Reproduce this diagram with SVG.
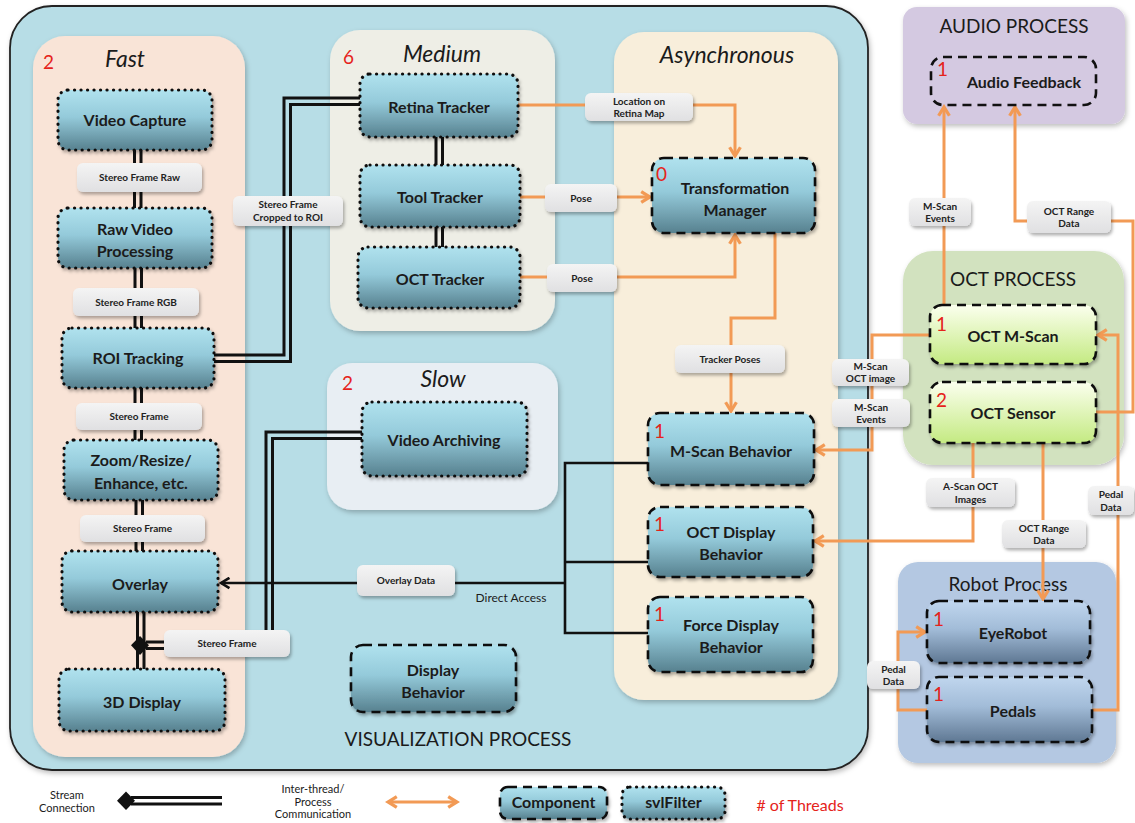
<svg xmlns="http://www.w3.org/2000/svg" width="1135" height="823" viewBox="0 0 1135 823">
  <defs>
    <linearGradient id="gBlue" x1="0" y1="0" x2="0" y2="1">
      <stop offset="0" stop-color="#b0e2ee"/>
      <stop offset="0.45" stop-color="#94cada"/>
      <stop offset="1" stop-color="#57818f"/>
    </linearGradient>
    <linearGradient id="gGreen" x1="0" y1="0" x2="0" y2="1">
      <stop offset="0" stop-color="#fbffee"/>
      <stop offset="1" stop-color="#c4ea82"/>
    </linearGradient>
    <linearGradient id="gRobot" x1="0" y1="0" x2="0" y2="1">
      <stop offset="0" stop-color="#c0d6ee"/>
      <stop offset="0.45" stop-color="#a2bcd8"/>
      <stop offset="1" stop-color="#5f7893"/>
    </linearGradient>
    <linearGradient id="gLbl" x1="0" y1="0" x2="0" y2="1">
      <stop offset="0" stop-color="#f4f4f4"/>
      <stop offset="1" stop-color="#e0e0e2"/>
    </linearGradient>
    <filter id="sh" x="-10%" y="-10%" width="130%" height="140%">
      <feDropShadow dx="1.5" dy="2.5" stdDeviation="1.8" flood-color="#000" flood-opacity="0.3"/>
    </filter>
    <filter id="shP" x="-5%" y="-5%" width="115%" height="115%">
      <feDropShadow dx="1.5" dy="2.5" stdDeviation="2.5" flood-color="#000" flood-opacity="0.25"/>
    </filter>
    <marker id="ao" viewBox="0 0 10 10" refX="8" refY="5" markerWidth="4.5" markerHeight="4.5" orient="auto-start-reverse">
      <path d="M1.5,1 L8,5 L1.5,9" fill="none" stroke="#f29a55" stroke-width="2.4"/>
    </marker>
    <marker id="ab" viewBox="0 0 10 10" refX="8" refY="5" markerWidth="5" markerHeight="5" orient="auto">
      <path d="M1.5,1 L8,5 L1.5,9" fill="none" stroke="#111" stroke-width="2"/>
    </marker>
    <style>
      text { font-family: Lato, "Open Sans", "Liberation Sans", sans-serif; }
      .panel { filter: url(#shP); }
      .node { fill: url(#gBlue); stroke: #111; stroke-width: 2.6; filter: url(#sh); }
      .green { fill: url(#gGreen); }
      .robot { fill: url(#gRobot); }
      .dot { stroke-dasharray: 0.1 6.4; stroke-linecap: round; stroke-width: 3.2; }
      .dash { stroke-dasharray: 9 6; }
      .nt { font-size: 16px; font-weight: 700; fill: #1b1b1b; text-anchor: middle; }
      .num { font-size: 19px; fill: #e5231b; }
      .ttl { font-size: 23px; font-style: italic; fill: #1b1b1b; text-anchor: middle; }
      .proc { font-size: 19px; fill: #1b1b1b; text-anchor: middle; }
      .lbl { fill: url(#gLbl); filter: url(#sh); }
      .lt { font-size: 10px; font-weight: 700; fill: #222; text-anchor: middle; }
      .or { fill: none; stroke: #f29a55; stroke-width: 3; stroke-linejoin: miter; }
      .bk { fill: none; stroke: #111; stroke-width: 2.6; }
      .st { fill: none; stroke: #111; stroke-width: 3; }
      .leg { font-size: 11px; fill: #1b1b1b; text-anchor: middle; }
    </style>
  </defs>

  <!-- process and thread-group panels -->
  <g id="visualization-process">
    <rect class="panel" x="10" y="6" width="858" height="764" rx="42" fill="#b7dde6" stroke="#222" stroke-width="1.8"/>
    <text class="proc" x="458" y="746" font-size="18">VISUALIZATION PROCESS</text>
  </g>
  <g id="fast-group">
    <rect class="panel" x="33" y="36" width="212" height="721" rx="32" fill="#f9e4d7"/>
    <text class="num" x="43" y="69">2</text>
    <text class="ttl" x="125" y="67">Fast</text>
  </g>
  <g id="medium-group">
    <rect class="panel" x="330" y="30" width="225" height="301" rx="30" fill="#eeeee6"/>
    <text class="num" x="343" y="64">6</text>
    <text class="ttl" x="442" y="62">Medium</text>
  </g>
  <g id="async-group">
    <rect class="panel" x="614" y="32" width="224" height="668" rx="30" fill="#f8eedb"/>
    <text class="ttl" x="727" y="63">Asynchronous</text>
  </g>
  <g id="slow-group">
    <rect class="panel" x="327" y="363" width="231" height="147" rx="25" fill="#e8eef3"/>
    <text class="num" x="342" y="390">2</text>
    <text class="ttl" x="443" y="387">Slow</text>
  </g>
  <g id="audio-process">
    <rect class="panel" x="903" y="7" width="222" height="117" rx="14" fill="#d4c9e1"/>
    <text class="proc" x="1014" y="33">AUDIO PROCESS</text>
  </g>
  <g id="oct-process">
    <rect class="panel" x="903" y="251" width="221" height="214" rx="30" fill="#d2e2bf"/>
    <text class="proc" x="1013" y="286">OCT PROCESS</text>
  </g>
  <g id="robot-process">
    <rect class="panel" x="898" y="562" width="218" height="201" rx="20" fill="#b4c8e2"/>
    <text class="proc" x="1008" y="591">Robot Process</text>
  </g>

  <!-- connectors -->
  <g id="connectors">
    <!-- stream connections (double lines) -->
    <path class="st" d="M134.5,150 V208 M141,150 V208"/>
    <path class="st" d="M135,268 V328 M141.5,268 V328"/>
    <path class="st" d="M135,388 V440 M141.5,388 V440"/>
    <path class="st" d="M136,500 V551 M142.5,500 V551"/>
    <path class="st" d="M137.5,612 V669 M144,612 V669"/>
    <path class="st" d="M436,137 V165 M442.5,137 V165"/>
    <path class="st" d="M436,227 V247 M442.5,227 V247"/>
    <path class="st" d="M214,355 H284 V98 H360"/>
    <path class="st" d="M214,361.5 H290.5 V104.5 H360"/>
    <path class="st" d="M362,432 H266 V630"/>
    <path class="st" d="M362,438.5 H272.5 V630"/>
    <path class="st" d="M164,642 H146 M164,648.5 H146"/>
    <path d="M140,636 L149,645.3 L140,655 L131,645.3 Z" fill="#111"/>

    <!-- inter-thread / process communication -->
    <path class="or" d="M518,105 H735 V156" marker-end="url(#ao)"/>
    <path class="or" d="M520,197 H650" marker-end="url(#ao)"/>
    <path class="or" d="M520,277 H735 V235" marker-end="url(#ao)"/>
    <path class="or" d="M775,233 V318 H731 V411" marker-end="url(#ao)"/>
    <path class="or" d="M930,335 H872 V450 H816" marker-end="url(#ao)"/>
    <path class="or" d="M944,305 V107" marker-end="url(#ao)"/>
    <path class="or" d="M1096,412 H1133 V221 H1015 V107" marker-end="url(#ao)"/>
    <path class="or" d="M1092,710 H1118 V335 H1098" marker-end="url(#ao)"/>
    <path class="or" d="M973,443 V541 H815" marker-end="url(#ao)"/>
    <path class="or" d="M1043,443 V599" marker-end="url(#ao)"/>
    <path class="or" d="M927,710 H898 V632 H925" marker-end="url(#ao)"/>

    <!-- direct access -->
    <path class="bk" d="M648,463 H565 V633 H648 M565,562 H648"/>
    <path class="bk" d="M565,583 H221" marker-end="url(#ab)"/>
    <text x="511" y="602" font-size="12" fill="#1b1b1b" text-anchor="middle">Direct Access</text>

    <!-- connector labels -->
    <rect class="lbl" x="77" y="163" width="125" height="29" rx="6"/>
    <text class="lt" x="139.5" y="181">Stereo Frame Raw</text>
    <rect class="lbl" x="73" y="288" width="126" height="28" rx="6"/>
    <text class="lt" x="136" y="305.5">Stereo Frame RGB</text>
    <rect class="lbl" x="76" y="403" width="126" height="27" rx="6"/>
    <text class="lt" x="139" y="420">Stereo Frame</text>
    <rect class="lbl" x="80" y="515" width="125" height="27" rx="6"/>
    <text class="lt" x="142.5" y="532">Stereo Frame</text>
    <rect class="lbl" x="164" y="630" width="126" height="27" rx="6"/>
    <text class="lt" x="227" y="647">Stereo Frame</text>
    <rect class="lbl" x="233" y="196" width="110" height="30" rx="6"/>
    <text class="lt" x="288" y="208">Stereo Frame</text>
    <text class="lt" x="288" y="220.5">Cropped to ROI</text>
    <rect class="lbl" x="585" y="93" width="108" height="28" rx="6"/>
    <text class="lt" x="639" y="104.5">Location on</text>
    <text class="lt" x="639" y="117">Retina Map</text>
    <rect class="lbl" x="545" y="184" width="72" height="28" rx="6"/>
    <text class="lt" x="581" y="201.5">Pose</text>
    <rect class="lbl" x="547" y="264" width="70" height="28" rx="6"/>
    <text class="lt" x="582" y="281.5">Pose</text>
    <rect class="lbl" x="675" y="345" width="110" height="28" rx="6"/>
    <text class="lt" x="730" y="362.5">Tracker Poses</text>
    <rect class="lbl" x="832" y="359" width="77" height="27" rx="6"/>
    <text class="lt" x="870.5" y="370">M-Scan</text>
    <text class="lt" x="870.5" y="382">OCT image</text>
    <rect class="lbl" x="832" y="399" width="78" height="28" rx="6"/>
    <text class="lt" x="871" y="410.5">M-Scan</text>
    <text class="lt" x="871" y="422.5">Events</text>
    <rect class="lbl" x="909" y="198" width="62" height="28" rx="6"/>
    <text class="lt" x="940" y="209.5">M-Scan</text>
    <text class="lt" x="940" y="221.5">Events</text>
    <rect class="lbl" x="1027" y="201" width="84" height="32" rx="6"/>
    <text class="lt" x="1069" y="214.5">OCT Range</text>
    <text class="lt" x="1069" y="227">Data</text>
    <rect class="lbl" x="926" y="478" width="89" height="29" rx="6"/>
    <text class="lt" x="970.5" y="490">A-Scan OCT</text>
    <text class="lt" x="970.5" y="502.5">Images</text>
    <rect class="lbl" x="1002" y="520" width="84" height="28" rx="6"/>
    <text class="lt" x="1044" y="531.5">OCT Range</text>
    <text class="lt" x="1044" y="544">Data</text>
    <rect class="lbl" x="1088" y="486" width="46" height="29" rx="6"/>
    <text class="lt" x="1111" y="498">Pedal</text>
    <text class="lt" x="1111" y="510.5">Data</text>
    <rect class="lbl" x="867" y="661" width="53" height="28" rx="6"/>
    <text class="lt" x="893.5" y="672.5">Pedal</text>
    <text class="lt" x="893.5" y="685">Data</text>
    <rect class="lbl" x="357" y="565" width="98" height="31" rx="6"/>
    <text class="lt" x="406" y="584">Overlay  Data</text>
  </g>

  <!-- svlFilter nodes (dotted) -->
  <g id="video-capture">
    <rect class="node dot" x="58" y="90" width="154" height="60" rx="10"/>
    <text class="nt" x="135" y="126">Video Capture</text>
  </g>
  <g id="raw-video-processing">
    <rect class="node dot" x="58" y="208" width="154" height="60" rx="10"/>
    <text class="nt" x="135" y="235">Raw Video</text>
    <text class="nt" x="135" y="257">Processing</text>
  </g>
  <g id="roi-tracking">
    <rect class="node dot" x="62" y="328" width="152" height="60" rx="10"/>
    <text class="nt" x="138" y="364">ROI Tracking</text>
  </g>
  <g id="zoom-resize-enhance">
    <rect class="node dot" x="64" y="440" width="154" height="60" rx="10"/>
    <text class="nt" x="141" y="466">Zoom/Resize/</text>
    <text class="nt" x="141" y="489">Enhance, etc.</text>
  </g>
  <g id="overlay">
    <rect class="node dot" x="62" y="551" width="156" height="61" rx="10"/>
    <text class="nt" x="140" y="590">Overlay</text>
  </g>
  <g id="display-3d">
    <rect class="node dot" x="59" y="669" width="166" height="62" rx="10"/>
    <text class="nt" x="142" y="708">3D Display</text>
  </g>
  <g id="retina-tracker">
    <rect class="node dot" x="360" y="74" width="158" height="63" rx="10"/>
    <text class="nt" x="439" y="113">Retina Tracker</text>
  </g>
  <g id="tool-tracker">
    <rect class="node dot" x="360" y="165" width="160" height="62" rx="10"/>
    <text class="nt" x="440" y="203">Tool Tracker</text>
  </g>
  <g id="oct-tracker">
    <rect class="node dot" x="358" y="247" width="162" height="61" rx="10"/>
    <text class="nt" x="440" y="285">OCT Tracker</text>
  </g>
  <g id="video-archiving">
    <rect class="node dot" x="362" y="402" width="165" height="74" rx="10"/>
    <text class="nt" x="444" y="446">Video Archiving</text>
  </g>

  <!-- component nodes (dashed) -->
  <g id="transformation-manager">
    <rect class="node dash" x="652" y="158" width="163" height="75" rx="12"/>
    <text class="num" x="656" y="181">0</text>
    <text class="nt" x="735" y="194">Transformation</text>
    <text class="nt" x="735" y="216">Manager</text>
  </g>
  <g id="m-scan-behavior">
    <rect class="node dash" x="648" y="413" width="166" height="72" rx="12"/>
    <text class="num" x="654" y="438">1</text>
    <text class="nt" x="731" y="457">M-Scan Behavior</text>
  </g>
  <g id="oct-display-behavior">
    <rect class="node dash" x="648" y="507" width="165" height="70" rx="12"/>
    <text class="num" x="654" y="531">1</text>
    <text class="nt" x="731" y="538">OCT Display</text>
    <text class="nt" x="731" y="560">Behavior</text>
  </g>
  <g id="force-display-behavior">
    <rect class="node dash" x="648" y="597" width="165" height="75" rx="12"/>
    <text class="num" x="654" y="621">1</text>
    <text class="nt" x="731" y="631">Force Display</text>
    <text class="nt" x="731" y="653">Behavior</text>
  </g>
  <g id="display-behavior">
    <rect class="node dash" x="351" y="645" width="165" height="67" rx="12"/>
    <text class="nt" x="433" y="676">Display</text>
    <text class="nt" x="433" y="698">Behavior</text>
  </g>
  <g id="audio-feedback">
    <rect x="931" y="57" width="165" height="48" rx="12" fill="none" stroke="#111" stroke-width="2.6" stroke-dasharray="9 6"/>
    <text class="num" x="937" y="76">1</text>
    <text class="nt" x="1024" y="88">Audio Feedback</text>
  </g>
  <g id="oct-m-scan">
    <rect class="node dash green" x="930" y="305" width="166" height="59" rx="12"/>
    <text class="num" x="936" y="331">1</text>
    <text class="nt" x="1013" y="342">OCT M-Scan</text>
  </g>
  <g id="oct-sensor">
    <rect class="node dash green" x="930" y="382" width="166" height="61" rx="12"/>
    <text class="num" x="936" y="407">2</text>
    <text class="nt" x="1013" y="419">OCT Sensor</text>
  </g>
  <g id="eyerobot">
    <rect class="node dash robot" x="927" y="601" width="163" height="62" rx="12"/>
    <text class="num" x="933" y="626">1</text>
    <text class="nt" x="1013" y="639">EyeRobot</text>
  </g>
  <g id="pedals">
    <rect class="node dash robot" x="927" y="677" width="165" height="65" rx="12"/>
    <text class="num" x="933" y="701">1</text>
    <text class="nt" x="1013" y="717">Pedals</text>
  </g>

  <!-- legend -->
  <g id="legend">
    <text class="leg" x="67" y="799">Stream</text>
    <text class="leg" x="67" y="811.5">Connection</text>
    <path class="st" d="M131,797.5 H222 M131,804 H222"/>
    <path d="M126,791.5 L135,800.8 L126,810 L117,800.8 Z" fill="#111"/>
    <text class="leg" x="313" y="793">Inter-thread/</text>
    <text class="leg" x="313" y="805.5">Process</text>
    <text class="leg" x="313" y="818">Communication</text>
    <path class="or" d="M388,802 H457" marker-start="url(#ao)" marker-end="url(#ao)"/>
    <rect class="node dash" x="500" y="787" width="107" height="32" rx="8"/>
    <text class="nt" x="553.5" y="808" font-size="13">Component</text>
    <rect class="node dot" x="622" y="787" width="103" height="32" rx="8"/>
    <text class="nt" x="673.5" y="808" font-size="13">svlFilter</text>
    <text x="800" y="811" font-size="16" fill="#e5231b" text-anchor="middle"># of Threads</text>
  </g>
</svg>
